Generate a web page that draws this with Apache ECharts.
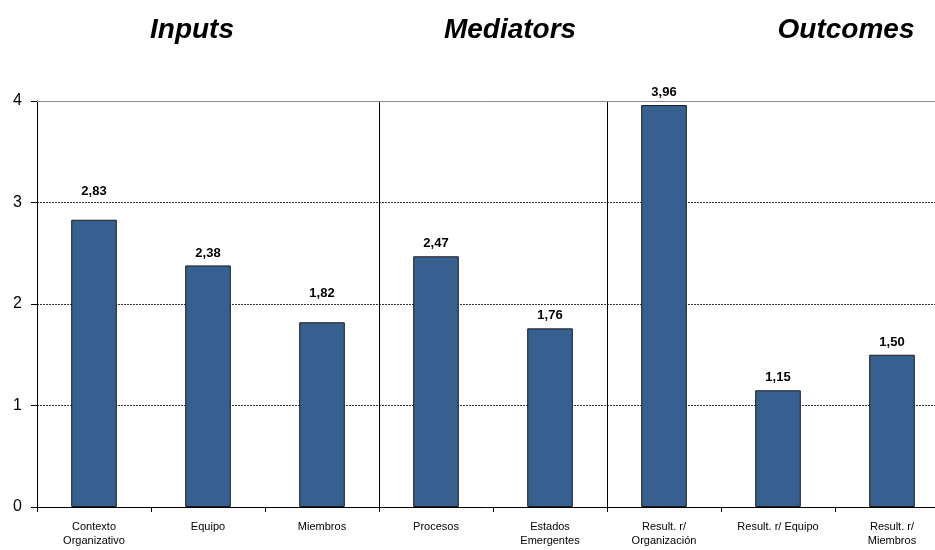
<!DOCTYPE html>
<html>
<head>
<meta charset="utf-8">
<script src="https://cdn.jsdelivr.net/npm/echarts@6/dist/echarts.min.js"></script>
<style>
  html, body { margin: 0; padding: 0; background: #fff; overflow: hidden; }
  #chart { width: 935px; height: 550px; overflow: hidden; }
</style>
</head>
<body>
<div id="chart"></div>
<script>
// Mean scores per team dimension, grouped into Inputs / Mediators / Outcomes
const categories = [
  'Contexto\nOrganizativo', 'Equipo', 'Miembros',
  'Procesos', 'Estados\nEmergentes',
  'Result. r/\nOrganización', 'Result. r/ Equipo', 'Result. r/\nMiembros'
];
const scores = [2.83, 2.38, 1.82, 2.47, 1.76, 3.96, 1.15, 1.50];
const groupTitles = ['Inputs', 'Mediators', 'Outcomes'];
const yTicks = [0, 1, 2, 3, 4];

// Group boundaries fall after these category indices
const groupBreaks = [3, 5];
// Labels that sit just above a gridline are lifted over it
const liftedLabels = [0, 2];

const chart = echarts.init(document.getElementById('chart'));

const titleX = [192, 510, 846];

chart.setOption({
  animation: false,
  backgroundColor: '#ffffff',
  textStyle: { fontFamily: 'Liberation Sans, Arial, sans-serif' },
  // plot area runs a little past the right edge of the canvas
  grid: { left: 37, width: 912, top: 101, bottom: 43, outerBoundsMode: 'none', containLabel: false },
  graphic: groupTitles.map((t, i) => ({
    type: 'text',
    x: titleX[i],
    y: 30,
    style: {
      text: t,
      font: 'italic bold 28px "Liberation Sans", Arial, sans-serif',
      fill: '#000',
      align: 'center',
      verticalAlign: 'middle'
    }
  })),
  xAxis: [{
    type: 'category',
    data: categories,
    boundaryGap: true,
    axisLine: { lineStyle: { color: '#000', width: 1 } },
    axisTick: { show: true, length: 5, lineStyle: { color: '#000' } },
    axisLabel: {
      color: '#000',
      fontSize: 11,
      lineHeight: 14,
      margin: 13,
      interval: 0
    },
    splitLine: {
      show: true,
      interval: (idx) => groupBreaks.indexOf(idx) !== -1,
      lineStyle: { color: '#000', width: 1 }
    }
  }, {
    type: 'category',
    position: 'top',
    data: categories,
    axisLine: { show: true, lineStyle: { color: '#8a8a8a', width: 1 } },
    axisTick: { show: false },
    axisLabel: { show: false },
    splitLine: { show: false }
  }],
  yAxis: {
    type: 'value',
    min: yTicks[0],
    max: yTicks[yTicks.length - 1],
    interval: 1,
    axisLine: { show: true, lineStyle: { color: '#000', width: 1 } },
    axisTick: { show: true, length: 6, lineStyle: { color: '#000' } },
    axisLabel: { color: '#000', fontSize: 16, margin: 15 },
    splitLine: {
      show: true,
      showMaxLine: false,
      lineStyle: { color: '#333', type: [2, 1], width: 1 }
    }
  },
  series: [{
    type: 'bar',
    xAxisIndex: 0,
    barWidth: '40%',
    data: scores.map((v, i) => ({
      value: v,
      label: liftedLabels.indexOf(i) !== -1 ? { offset: [0, -16] } : undefined
    })),
    itemStyle: { color: '#36608f', borderColor: '#1a1a1a', borderWidth: 1 },
    label: {
      show: true,
      position: 'top',
      distance: 6,
      color: '#000',
      fontSize: 13,
      fontWeight: 'bold',
      formatter: (p) => p.value.toFixed(2).replace('.', ',')
    }
  }]
});
</script>
</body>
</html>
